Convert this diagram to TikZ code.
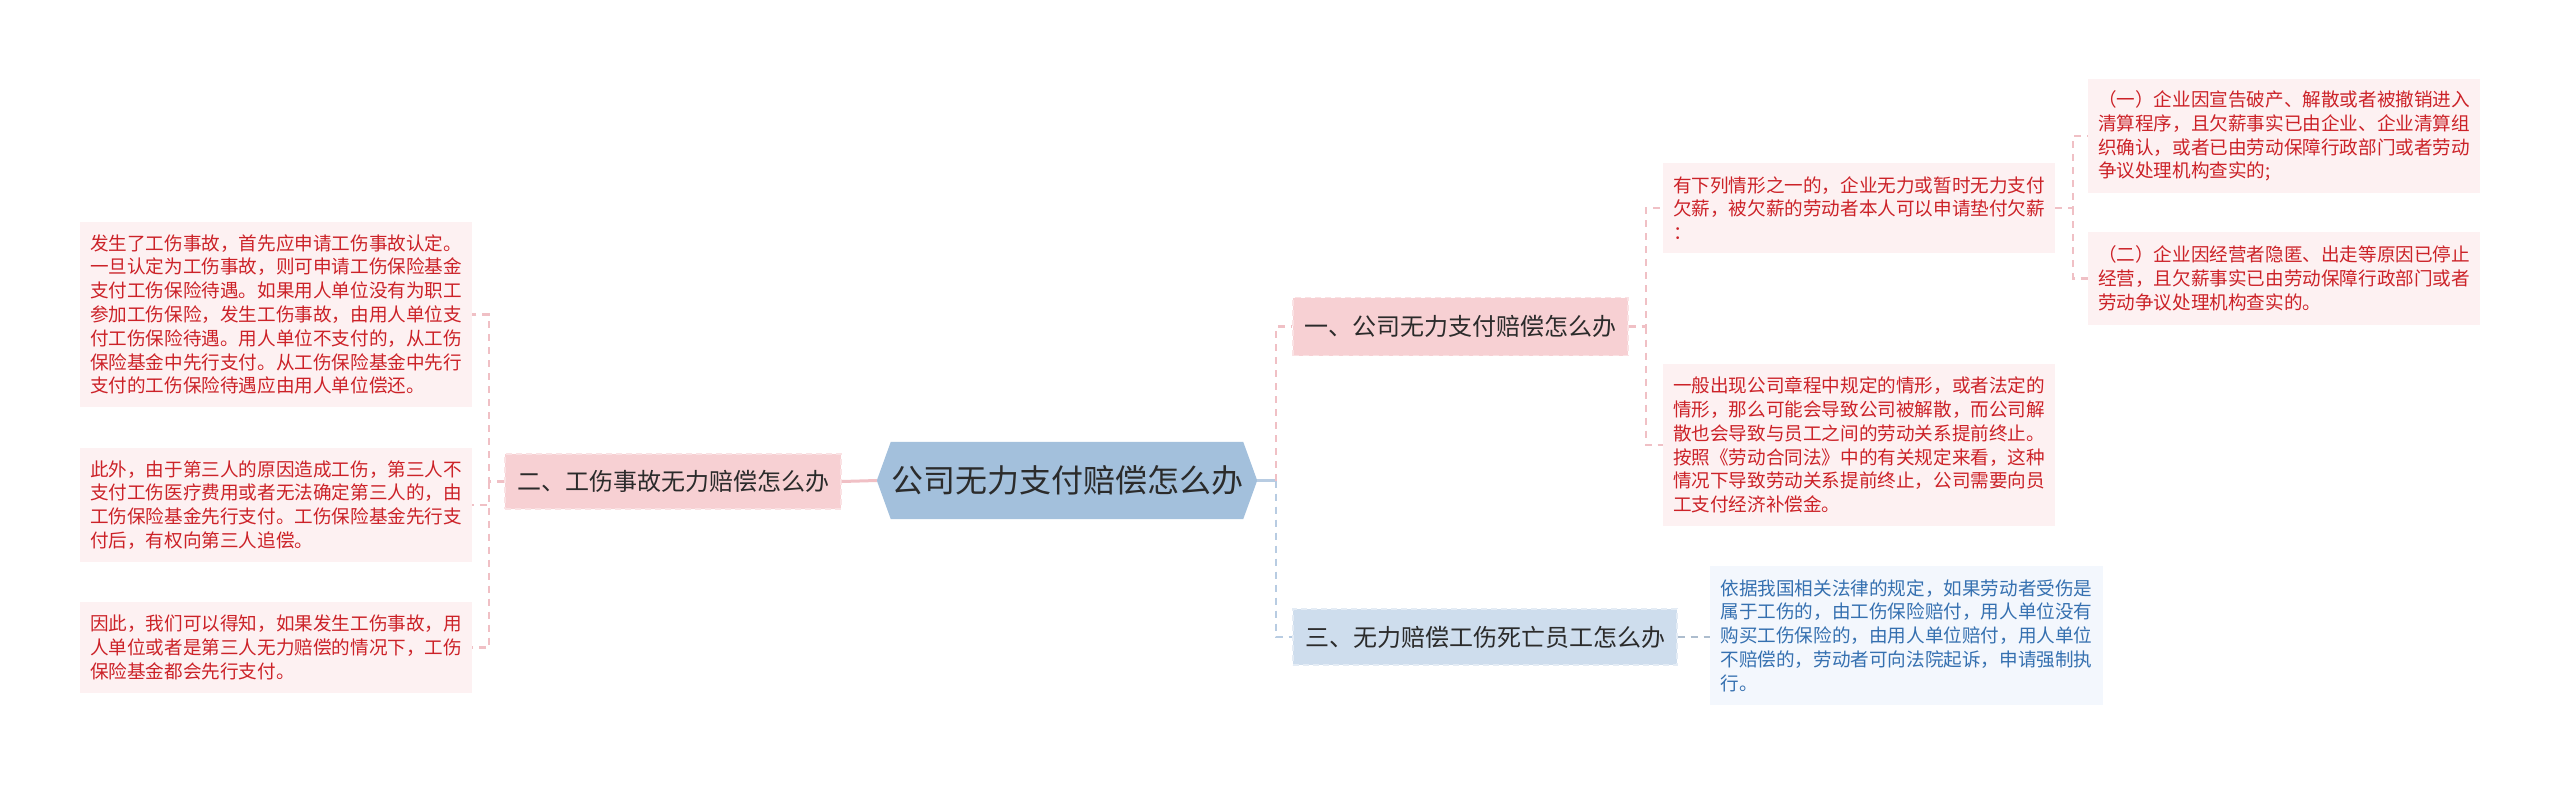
\documentclass[tikz,border=0pt]{standalone}
\usepackage{fontspec}
\newfontfamily\cjk{Noto Sans CJK SC}
\usetikzlibrary{backgrounds}
\definecolor{pinkline}{HTML}{F0C0C5}
\definecolor{blueline}{HTML}{B8CCE2}
\definecolor{pinkfill}{HTML}{F7D0D3}
\definecolor{pinkborder}{HTML}{FAE2E4}
\definecolor{bluefill}{HTML}{CEDDED}
\definecolor{blueborder}{HTML}{E4ECF5}
\definecolor{rootfill}{HTML}{A3C0DC}
\definecolor{leafpink}{HTML}{FDF1F2}
\definecolor{leafblue}{HTML}{F3F7FD}
\definecolor{redtext}{HTML}{CC2228}
\definecolor{bluetext}{HTML}{3570B0}
\definecolor{darktext}{HTML}{2B2B2B}
\tikzset{
  leafbox/.style={fill=leafpink, draw=none, text=redtext, align=left, inner sep=0pt,
    font={\cjk\fontsize{18.6}{23.8}\selectfont}},
  leafboxb/.style={leafbox, fill=leafblue, text=bluetext},
  branchp/.style={fill=pinkfill, draw=pinkborder, dashed, dash pattern=on 6pt off 4pt, line width=1.4pt,
    text=darktext, inner sep=0pt, font={\cjk\fontsize{24}{30}\selectfont}},
  branchb/.style={branchp, fill=bluefill, draw=blueborder},
  pinkedge/.style={draw=pinkline, line width=2.4pt, dash pattern=on 7pt off 6pt},
  blueedge/.style={draw=blueline, line width=2.4pt, dash pattern=on 7pt off 6pt},
}
\begin{document}
\begin{tikzpicture}[x=1pt,y=-1pt]
\useasboundingbox (0,0) rectangle (2560,785);
\begin{pgfonlayer}{background}
\fill[white] (0,0) rectangle (2560,785);
\end{pgfonlayer}

% root
\node[inner sep=0pt, minimum width=380pt, minimum height=77pt, text=darktext,
  font={\cjk\fontsize{32}{38}\selectfont}] (root) at (1067,480.5) {公司无力支付赔偿怎么办};
\begin{pgfonlayer}{background}
\fill[rootfill] (root.west) -- ([xshift=14pt]root.north west) -- ([xshift=-14pt]root.north east)
  -- (root.east) -- ([xshift=-14pt]root.south east) -- ([xshift=14pt]root.south west) -- cycle;
\end{pgfonlayer}

% branches
\node[branchp, minimum width=336pt, minimum height=55pt] (b2) at (673,481.5) {二、工伤事故无力赔偿怎么办};
\node[branchp, minimum width=335pt, minimum height=58pt] (b1) at (1460.5,326.5) {一、公司无力支付赔偿怎么办};
\node[branchb, minimum width=384pt, minimum height=56pt] (b3) at (1485,637) {三、无力赔偿工伤死亡员工怎么办};

% left leaves
\node[leafbox, minimum width=392pt, minimum height=185pt] (L1) at (276,314.5) {发生了工伤事故，首先应申请工伤事故认定。\\一旦认定为工伤事故，则可申请工伤保险基金\\支付工伤保险待遇。如果用人单位没有为职工\\参加工伤保险，发生工伤事故，由用人单位支\\付工伤保险待遇。用人单位不支付的，从工伤\\保险基金中先行支付。从工伤保险基金中先行\\支付的工伤保险待遇应由用人单位偿还。};
\node[leafbox, minimum width=392pt, minimum height=114pt] (L2) at (276,505) {此外，由于第三人的原因造成工伤，第三人不\\支付工伤医疗费用或者无法确定第三人的，由\\工伤保险基金先行支付。工伤保险基金先行支\\付后，有权向第三人追偿。};
\node[leafbox, minimum width=392pt, minimum height=91pt] (L3) at (276,647.5) {因此，我们可以得知，如果发生工伤事故，用\\人单位或者是第三人无力赔偿的情况下，工伤\\保险基金都会先行支付。};

% right leaves
\node[leafbox, minimum width=392pt, minimum height=90pt] (R1) at (1859,208) {有下列情形之一的，企业无力或暂时无力支付\\欠薪，被欠薪的劳动者本人可以申请垫付欠薪\\：};
\node[leafbox, minimum width=392pt, minimum height=114pt] (R1a) at (2284,136) {（一）企业因宣告破产、解散或者被撤销进入\\清算程序，且欠薪事实已由企业、企业清算组\\织确认，或者已由劳动保障行政部门或者劳动\\争议处理机构查实的;};
\node[leafbox, minimum width=392pt, minimum height=93pt] (R1b) at (2284,278.5) {（二）企业因经营者隐匿、出走等原因已停止\\经营，且欠薪事实已由劳动保障行政部门或者\\劳动争议处理机构查实的。};
\node[leafbox, minimum width=392pt, minimum height=162pt] (R2) at (1859,445) {一般出现公司章程中规定的情形，或者法定的\\情形，那么可能会导致公司被解散，而公司解\\散也会导致与员工之间的劳动关系提前终止。\\按照《劳动合同法》中的有关规定来看，这种\\情况下导致劳动关系提前终止，公司需要向员\\工支付经济补偿金。};
\node[leafboxb, minimum width=393pt, minimum height=139pt] (R3) at (1906.5,635.5) {依据我国相关法律的规定，如果劳动者受伤是\\属于工伤的，由工伤保险赔付，用人单位没有\\购买工伤保险的，由用人单位赔付，用人单位\\不赔偿的，劳动者可向法院起诉，申请强制执\\行。};

% junctions
\coordinate (rootj) at (1276,480.5);
\coordinate (lj) at (489,481.5);
\coordinate (rj1) at (1646,326.5);
\coordinate (rj2) at (2073,208);

% connectors
\draw[pinkline, line width=3pt] (root.west) -- (b2.east);
\draw[blueline, line width=3pt] (root.east) -- (rootj);
\draw[pinkedge] (rootj) |- (b1.west);
\draw[blueedge] (rootj) |- (b3.west);

\draw[pinkedge] (b2.west) -- (lj) |- (L1.east);
\draw[pinkedge] (lj) |- (L2.east);
\draw[pinkedge] (lj) |- (L3.east);

\draw[pinkedge] (b1.east) -- (rj1) |- (R1.west);
\draw[pinkedge] (rj1) |- (R2.west);

\draw[pinkedge] (R1.east) -- (rj2) |- (R1a.west);
\draw[pinkedge] (rj2) |- (R1b.west);

\draw[blueedge, draw=blueline!80!gray] (b3.east) -- (R3.west |- b3.east);
\end{tikzpicture}
\end{document}
